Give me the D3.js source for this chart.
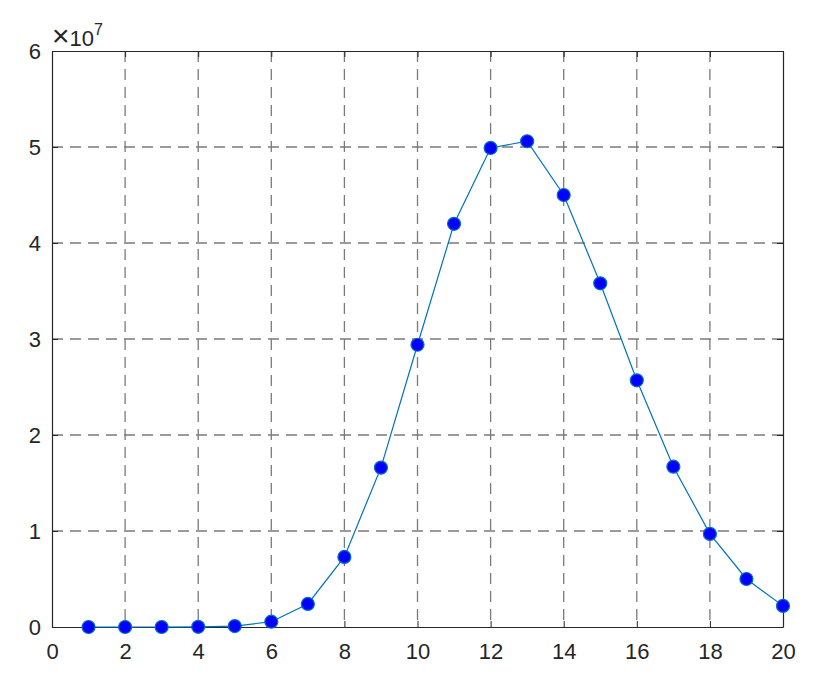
<!DOCTYPE html>
<html>
<head>
<meta charset="utf-8">
<script src="https://cdn.jsdelivr.net/npm/d3@7"></script>
<style>
  body { margin: 0; background: #fff; }
  text { font-family: "Liberation Sans", Arial, sans-serif; fill: #262626; }
</style>
</head>
<body>
<div id="chart"></div>
<script>
// data (y in units of 1e7)
const xs = [1, 2, 3, 4, 5, 6, 7, 8, 9, 10, 11, 12, 13, 14, 15, 16, 17, 18, 19, 20];
const ys = [0, 0, 0, 0.002, 0.01, 0.055, 0.24, 0.73, 1.66, 2.94, 4.2, 4.99, 5.06, 4.5, 3.58, 2.57, 1.67, 0.97, 0.5, 0.22];
const xTicks = [0, 2, 4, 6, 8, 10, 12, 14, 16, 18, 20];
const yTicks = [0, 1, 2, 3, 4, 5, 6];

const W = 830, H = 697;
const margin = { top: 51, right: 47, bottom: 70, left: 52 };
const w = W - margin.left - margin.right;
const h = H - margin.top - margin.bottom;

const svg = d3.select("#chart").append("svg")
  .attr("width", W)
  .attr("height", H);

const g = svg.append("g")
  .attr("transform", `translate(${margin.left},${margin.top})`);

const x = d3.scaleLinear().domain([0, 20]).range([0, w]);
const y = d3.scaleLinear().domain([0, 6]).range([h, 0]);

// grid
g.selectAll(".vgrid")
  .data(xTicks.slice(1, -1))
  .enter().append("line")
  .attr("x1", d => x(d)).attr("x2", d => x(d))
  .attr("y1", 0).attr("y2", h)
  .attr("stroke", "#7a7a7a")
  .attr("stroke-width", 1.3)
  .attr("stroke-dasharray", "11 7");

g.selectAll(".hgrid")
  .data(yTicks.slice(1, -1))
  .enter().append("line")
  .attr("x1", 0).attr("x2", w)
  .attr("y1", d => y(d)).attr("y2", d => y(d))
  .attr("stroke", "#7a7a7a")
  .attr("stroke-width", 1.3)
  .attr("stroke-dasharray", "11 7");

// axes (inward ticks, MATLAB style)
const xAxis = g.append("g")
  .attr("transform", `translate(0,${h})`)
  .call(d3.axisBottom(x).tickValues(xTicks).tickFormat(d3.format("d"))
    .tickSizeInner(-6).tickSizeOuter(0).tickPadding(16));
const yAxis = g.append("g")
  .call(d3.axisLeft(y).tickValues(yTicks).tickFormat(d3.format("d"))
    .tickSizeInner(-6).tickSizeOuter(0).tickPadding(11));
const xTop = g.append("g")
  .call(d3.axisTop(x).tickValues(xTicks).tickSizeInner(-6).tickSizeOuter(0).tickFormat(""));
const yRight = g.append("g")
  .attr("transform", `translate(${w},0)`)
  .call(d3.axisRight(y).tickValues(yTicks).tickSizeInner(-6).tickSizeOuter(0).tickFormat(""));

[xAxis, yAxis, xTop, yRight].forEach(a => {
  a.attr("font-size", null).attr("font-family", null);
  a.select(".domain").attr("stroke", "#262626").attr("stroke-width", 1.2);
  a.selectAll(".tick line").attr("stroke", "#262626").attr("stroke-width", 1);
  a.selectAll(".tick text").style("font-size", "22px").attr("fill", "#262626");
});

// exponent label
const exp = svg.append("text")
  .attr("x", margin.left)
  .attr("y", margin.top - 5)
  .style("font-size", "22px");
exp.append("tspan").style("font-size", "30px").text("\u00d7");
exp.append("tspan").text("10");
exp.append("tspan").attr("dy", -11).style("font-size", "16px").text("7");

// line + markers
const pts = xs.map((d, i) => [d, ys[i]]);
g.append("path")
  .datum(pts)
  .attr("fill", "none")
  .attr("stroke", "#0072bd")
  .attr("stroke-width", 1.2)
  .attr("d", d3.line().x(d => x(d[0])).y(d => y(d[1])));

g.selectAll(".pt")
  .data(pts)
  .enter().append("circle")
  .attr("cx", d => x(d[0]))
  .attr("cy", d => y(d[1]))
  .attr("r", 6.5)
  .attr("fill", "#0000ff")
  .attr("stroke", "#0072bd")
  .attr("stroke-width", 1.2);
</script>
</body>
</html>
